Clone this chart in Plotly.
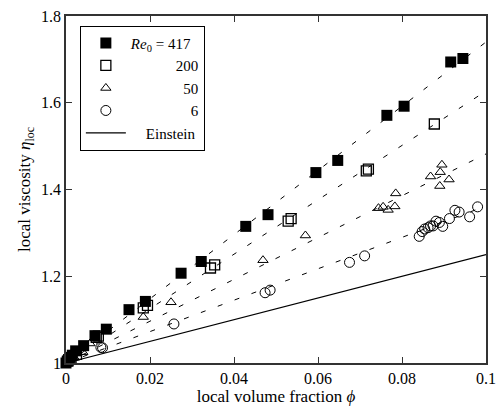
import plotly.graph_objects as go
import numpy as np

# Re0 = 417 (filled squares)
phi_417 = [0.0, 0.0003, 0.0006, 0.001, 0.0015, 0.0023, 0.0042, 0.0069, 0.0096, 0.015, 0.0189,
           0.0274, 0.0322, 0.0428, 0.0481, 0.0595, 0.0647, 0.0764, 0.0805, 0.0916, 0.0945]
eta_417 = [1.0, 1.004, 1.008, 1.013, 1.018, 1.028, 1.040, 1.063, 1.078, 1.123, 1.142,
           1.207, 1.234, 1.315, 1.342, 1.439, 1.467, 1.571, 1.592, 1.694, 1.702]

# Re0 = 200 (open squares)
phi_200 = [0.0005, 0.0012, 0.0025, 0.0072, 0.0077, 0.0184, 0.0194, 0.0344, 0.0354,
           0.0529, 0.0536, 0.0715, 0.072, 0.0877]
eta_200 = [1.005, 1.010, 1.020, 1.059, 1.062, 1.127, 1.133, 1.219, 1.226,
           1.327, 1.333, 1.443, 1.447, 1.551]

# Re0 = 50 (open triangles)
phi_50 = [0.0008, 0.002, 0.004, 0.0057, 0.0184, 0.025, 0.0469, 0.057, 0.0744, 0.0755,
          0.0767, 0.0783, 0.0785, 0.0868, 0.0891, 0.0895, 0.0912, 0.089]
eta_50 = [1.005, 1.012, 1.025, 1.045, 1.106, 1.140, 1.237, 1.294, 1.357, 1.360,
          1.353, 1.361, 1.391, 1.430, 1.440, 1.457, 1.423, 1.408]

# Re0 = 6 (open circles)
phi_6 = [0.0083, 0.0087, 0.0257, 0.0474, 0.0486, 0.0675, 0.0711, 0.0841, 0.0848, 0.0854,
         0.0862, 0.0868, 0.0874, 0.0881, 0.0889, 0.0897, 0.0913, 0.0926, 0.0936, 0.0961, 0.098]
eta_6 = [1.036, 1.035, 1.090, 1.162, 1.168, 1.232, 1.247, 1.292, 1.303, 1.309,
         1.312, 1.316, 1.316, 1.327, 1.324, 1.315, 1.333, 1.352, 1.348, 1.337, 1.360]

# slopes of the dashed linear fits eta = 1 + k*phi
fit_slopes = [7.4, 6.27, 4.82, 3.62]
einstein_k = 2.5

x_ticks = [0, 0.02, 0.04, 0.06, 0.08, 0.1]
x_ticktext = ["0", "0.02", "0.04", "0.06", "0.08", "0.1"]
y_ticks = [1.0, 1.2, 1.4, 1.6, 1.8]
y_ticktext = ["1", "1.2", "1.4", "1.6", "1.8"]

legend_names = ["<i>Re</i><sub>0</sub> = 417",
                "\u2007\u2007\u2007\u2007\u2007\u2007200",
                "\u2007\u2007\u2007\u2007\u2007\u2007\u200750",
                "\u2007\u2007\u2007\u2007\u2007\u2007\u2007\u20076",
                "\u2007\u2007Einstein"]

FONT = "Liberation Serif"
fig = go.Figure()

phi_line = np.array([0.0, 0.1])
for k in fit_slopes:
    fig.add_trace(go.Scatter(x=phi_line, y=1 + k * phi_line, mode="lines",
                             line=dict(color="black", width=1, dash="5px,13px"),
                             showlegend=False, hoverinfo="skip"))

mk = dict(cliponaxis=False, mode="markers")
fig.add_trace(go.Scatter(x=phi_417, y=eta_417, name=legend_names[0],
                         marker=dict(symbol="square", size=11, color="black",
                                     line=dict(color="black", width=0)), **mk))
fig.add_trace(go.Scatter(x=phi_200, y=eta_200, name=legend_names[1],
                         marker=dict(symbol="square-open", size=10, color="black",
                                     line=dict(width=1.3)), **mk))
fig.add_trace(go.Scatter(x=phi_50, y=eta_50, name=legend_names[2],
                         marker=dict(symbol="triangle-up-open", size=9, color="black",
                                     line=dict(width=1)), **mk))
fig.add_trace(go.Scatter(x=phi_6, y=eta_6, name=legend_names[3],
                         marker=dict(symbol="circle-open", size=10, color="black",
                                     line=dict(width=1)), **mk))
fig.add_trace(go.Scatter(x=phi_line, y=1 + einstein_k * phi_line, mode="lines",
                         name=legend_names[4],
                         line=dict(color="black", width=1.2)))

axis_common = dict(showline=True, mirror="ticks", linecolor="#333", linewidth=1.5,
                   ticks="inside", ticklen=6, tickcolor="#333", tickwidth=1,
                   showgrid=False, zeroline=False,
                   tickfont=dict(family=FONT, size=16, color="black"))

fig.update_layout(
    width=504, height=409,
    margin=dict(l=66, r=8, t=8, b=45),
    plot_bgcolor="white", paper_bgcolor="white",
    font=dict(family=FONT, size=16, color="black"),
    xaxis=dict(range=[0, 0.1], tickvals=x_ticks, ticktext=x_ticktext,
               title=dict(text="local volume fraction <i>ϕ</i>", standoff=2,
                          font=dict(family=FONT, size=17)), **axis_common),
    yaxis=dict(range=[1, 1.8], tickvals=y_ticks, ticktext=y_ticktext,
               title=dict(text="local viscosity <i>η</i><sub>loc</sub>", standoff=6,
                          font=dict(family=FONT, size=17)), **axis_common),
    legend=dict(x=0.033, y=0.972, xanchor="left", yanchor="top",
                bordercolor="black", borderwidth=1, bgcolor="white",
                font=dict(family=FONT, size=15), itemwidth=40,
                tracegroupgap=0, valign="middle"),
)

fig.write_html("out.html")
